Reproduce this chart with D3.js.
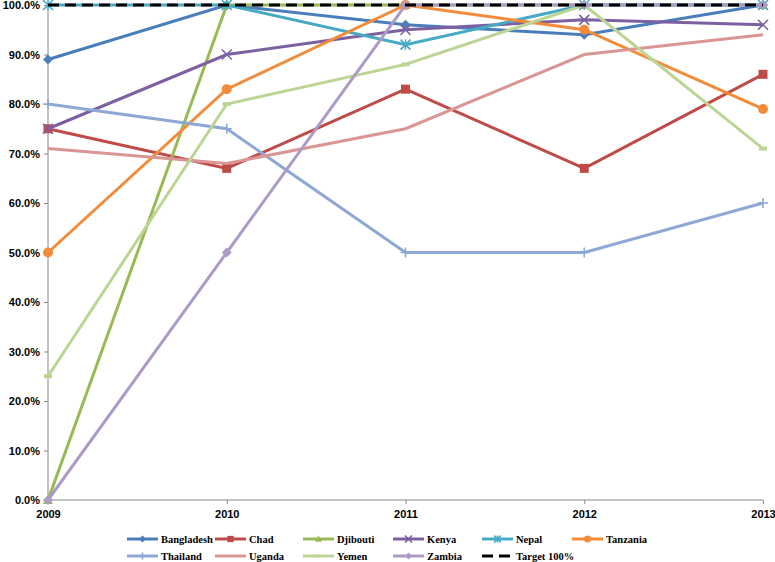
<!DOCTYPE html>
<html><head><meta charset="utf-8">
<script src="https://cdn.jsdelivr.net/npm/d3@7"></script>
<style>body{margin:0;background:#fff}svg{display:block}</style>
</head><body>
<svg id="c" width="775" height="562"></svg>
<script>
const years = ["2009","2010","2011","2012","2013"];
const yTicks = [0,0.1,0.2,0.3,0.4,0.5,0.6,0.7,0.8,0.9,1.0];
const bangladesh = [0.89,1.00,0.96,0.94,1.00];
const chad       = [0.75,0.67,0.83,0.67,0.86];
const djibouti   = [0.00,1.00,1.00,1.00,1.00];
const kenya      = [0.75,0.90,0.95,0.97,0.96];
const nepal      = [1.00,1.00,0.92,1.00,1.00];
const tanzania   = [0.50,0.83,1.00,0.95,0.79];
const thailand   = [0.80,0.75,0.50,0.50,0.60];
const uganda     = [0.71,0.68,0.75,0.90,0.94];
const yemen      = [0.25,0.80,0.88,1.00,0.71];
const zambia     = [0.00,0.50,1.00,1.00,1.00];
const target     = [1.00,1.00,1.00,1.00,1.00];

const series = [
  {name:"Bangladesh", values:bangladesh, color:"#4A7EBB", marker:"diamond"},
  {name:"Chad", values:chad, color:"#BE4B48", marker:"square"},
  {name:"Djibouti", values:djibouti, color:"#98B954", marker:"triangle"},
  {name:"Kenya", values:kenya, color:"#7D60A0", marker:"x"},
  {name:"Nepal", values:nepal, color:"#46AAC5", marker:"star"},
  {name:"Tanzania", values:tanzania, color:"#F28C3A", marker:"circle"},
  {name:"Thailand", values:thailand, color:"#8EA8D6", marker:"plus"},
  {name:"Uganda", values:uganda, color:"#D99694", marker:"none"},
  {name:"Yemen", values:yemen, color:"#BCD595", marker:"dash"},
  {name:"Zambia", values:zambia, color:"#AB9BC6", marker:"diamond"},
  {name:"Target 100%", values:target, color:"#000000", marker:"none", dashed:true}
];

const svg = d3.select("#c");
const x = d3.scalePoint().domain(years).range([48,763]);
const y = d3.scaleLinear().domain([0,1]).range([500,5]);

// axes
const yAxis = svg.append("g").attr("transform","translate(48,0)")
  .call(d3.axisLeft(y).tickValues(yTicks).tickFormat(d3.format(".1%")).tickSize(4).tickPadding(4));
const xAxis = svg.append("g").attr("transform","translate(0,500)")
  .call(d3.axisBottom(x).tickSize(4).tickPadding(6));
[yAxis,xAxis].forEach(a=>{
  a.selectAll("path,line").attr("stroke","#868686");
  a.selectAll("text").attr("font-family","Liberation Sans, Arial, sans-serif").attr("font-weight","bold").attr("font-size","11px").attr("fill","#000");
});
xAxis.select(".domain").attr("d","M48,0H763");
yAxis.select(".domain").attr("d","M0,5V500");

function drawMarker(g, type, cx, cy, color, s){
  s = s||1;
  if(type==="diamond"){
    g.append("path").attr("d",`M${cx},${cy-5*s}L${cx+5*s},${cy}L${cx},${cy+5*s}L${cx-5*s},${cy}Z`).attr("fill",color);
  } else if(type==="square"){
    g.append("rect").attr("x",cx-4.5*s).attr("y",cy-4.5*s).attr("width",9*s).attr("height",9*s).attr("fill",color);
  } else if(type==="triangle"){
    g.append("path").attr("d",`M${cx},${cy-5*s}L${cx+5*s},${cy+4*s}L${cx-5*s},${cy+4*s}Z`).attr("fill",color);
  } else if(type==="circle"){
    g.append("circle").attr("cx",cx).attr("cy",cy).attr("r",5*s).attr("fill",color);
  } else if(type==="x"){
    g.append("path").attr("d",`M${cx-5*s},${cy-5*s}L${cx+5*s},${cy+5*s}M${cx-5*s},${cy+5*s}L${cx+5*s},${cy-5*s}`).attr("stroke",color).attr("stroke-width",1.6);
  } else if(type==="star"){
    g.append("path").attr("d",`M${cx-5*s},${cy-5*s}L${cx+5*s},${cy+5*s}M${cx-5*s},${cy+5*s}L${cx+5*s},${cy-5*s}M${cx},${cy-5*s}V${cy+5*s}`).attr("stroke",color).attr("stroke-width",1.6);
  } else if(type==="plus"){
    g.append("path").attr("d",`M${cx-5*s},${cy}H${cx+5*s}M${cx},${cy-5*s}V${cy+5*s}`).attr("stroke",color).attr("stroke-width",1.6);
  } else if(type==="dash"){
    g.append("rect").attr("x",cx-4*s).attr("y",cy-2*s).attr("width",8*s).attr("height",4*s).attr("fill",color);
  }
}

const line = d3.line().x((d,i)=>x(years[i])).y(d=>y(d));
series.forEach(s=>{
  const g = svg.append("g");
  g.append("path").datum(s.values).attr("d",line).attr("fill","none")
    .attr("stroke",s.color).attr("stroke-width",3)
    .attr("stroke-dasharray",s.dashed?"11,6":null);
  s.values.forEach((v,i)=>drawMarker(g,s.marker,x(years[i]),y(v),s.color,1));
});

// legend
const colX = [127,215,303,393,482,572];
const rowY = [539,556];
const leg = svg.append("g");
series.forEach((s,i)=>{
  const r = i<6?0:1, c = i<6?i:i-6;
  const lx = colX[c], ly = rowY[r];
  leg.append("line").attr("x1",lx).attr("x2",lx+31).attr("y1",ly).attr("y2",ly)
    .attr("stroke",s.color).attr("stroke-width",3).attr("stroke-dasharray",s.dashed?"11,6":null);
  drawMarker(leg,s.marker,lx+15.5,ly,s.color,0.7);
  leg.append("text").attr("x",lx+34).attr("y",ly+3.5).text(s.name)
    .attr("font-family","Liberation Serif, Cambria, serif").attr("font-weight","bold").attr("font-size","10.5px").attr("fill","#000");
});
</script>
</body></html>
